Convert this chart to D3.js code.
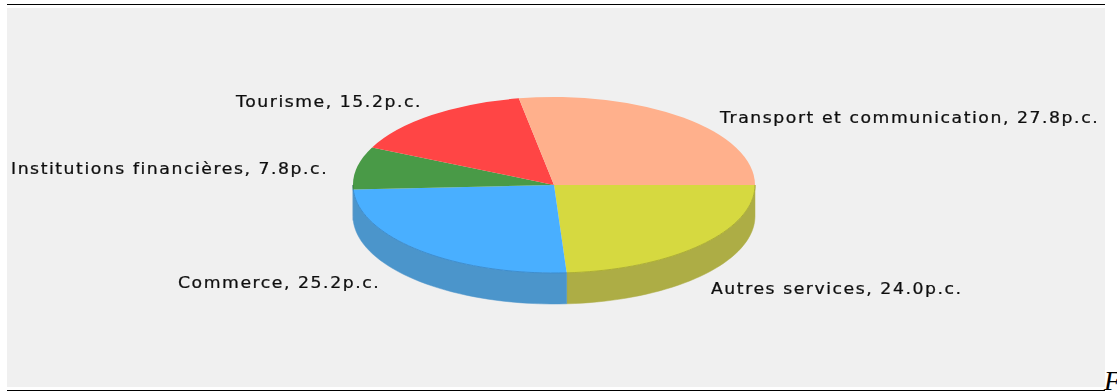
<!DOCTYPE html>
<html><head><meta charset="utf-8">
<script src="https://cdn.jsdelivr.net/npm/d3@7/dist/d3.min.js"></script>
<style>html,body{margin:0;padding:0;background:#fff;overflow:hidden}svg{display:block}</style>
</head><body><svg id="c" width="1117" height="391"></svg>
<script>
const categories = ["Autres services","Commerce","Institutions financières","Tourisme","Transport et communication"];
const values = [24.0,25.2,7.8,15.2,27.8];
const topColors = ["#d6d93f","#4aafff","#4a9a46","#ff4444","#ffb08c"];
const sideColors = ["#adad45","#4c95cb","#4c8fc0","#c93a3a","#d0906f"];

const W=1117,H=391, cx=554, cy=185, rx=201, ry=88, depth=31;
// label left edge / baseline, in the same order as categories
const labelLayout=[[711,294],[178,288],[11,174],[236,107],[720,123]];

const svg=d3.select("#c");
const defs=svg.append("defs");
defs.append("filter").attr("id","soft").attr("x","-5%").attr("y","-5%").attr("width","110%").attr("height","110%")
  .append("feGaussianBlur").attr("stdDeviation",0.6);
defs.append("filter").attr("id","softT").attr("x","-5%").attr("y","-30%").attr("width","110%").attr("height","160%")
  .append("feGaussianBlur").attr("stdDeviation",0.35);

svg.append("rect").attr("x",7).attr("y",8).attr("width",1098).attr("height",379).attr("fill","#f0f0f0");
svg.append("line").attr("x1",7).attr("x2",1105).attr("y1",4.5).attr("y2",4.5).attr("stroke","#000");
svg.append("line").attr("x1",7).attr("x2",1105).attr("y1",390.5).attr("y2",390.5).attr("stroke","#000");
svg.append("text").attr("x",1104).attr("y",390).attr("font-family","Liberation Serif").attr("font-style","italic").attr("font-size",27).attr("fill","#000").text("F");

// d3 angles: 0 at north, clockwise. The pie begins at due east.
const pie=d3.pie().sort(null).value(d=>d).startAngle(Math.PI/2).endAngle(Math.PI*2.5);
const slices=pie(values);
const xS=d3.scaleLinear().domain([-1,1]).range([cx-rx,cx+rx]);
const yS=d3.scaleLinear().domain([-1,1]).range([cy-ry,cy+ry]);
const arcU=d3.arc().innerRadius(0).outerRadius(1);

const g=svg.append("g").attr("filter","url(#soft)");
const rimArcs=[];
// side wall: visible front half only (d3 angle PI/2 .. 3PI/2)
slices.forEach((s,i)=>{
  const a0=Math.max(s.startAngle,Math.PI/2), a1=Math.min(s.endAngle,Math.PI*1.5);
  if(a1<=a0) return;
  const as=d3.range(0,41).map(k=>a0+(a1-a0)*k/40);
  const area=d3.area().x(a=>xS(Math.sin(a))).y0(a=>yS(-Math.cos(a))).y1(a=>yS(-Math.cos(a))+depth);
  g.append("path").attr("d",area(as)).attr("fill",sideColors[i]).attr("stroke",sideColors[i]).attr("stroke-width",0.5);
  rimArcs.push({as,i});
});
// top face
const face=g.append("g").attr("transform",`translate(${cx},${cy}) scale(${rx},${ry})`);
face.selectAll("path").data(slices).join("path")
  .attr("d",arcU).attr("fill",(d,i)=>topColors[i]);
// slightly darker rim where the top meets the wall
const rim=d3.line().x(a=>xS(Math.sin(a))).y(a=>yS(-Math.cos(a)));
rimArcs.forEach(r=>g.append("path").attr("d",rim(r.as)).attr("fill","none")
  .attr("stroke",d3.color(topColors[r.i]).darker(0.6)).attr("stroke-width",1));

// labels: the source glyphs are stretched sideways
svg.append("g").attr("filter","url(#softT)").selectAll("text").data(categories).join("text")
  .attr("transform",(d,i)=>`translate(${labelLayout[i][0]},${labelLayout[i][1]}) scale(1.15,1)`)
  .attr("font-family","DejaVu Sans").attr("font-size",15).attr("letter-spacing",1.35)
  .attr("fill","#111").attr("stroke","#111").attr("stroke-width",0.25)
  .text((d,i)=>`${d}, ${values[i].toFixed(1)}p.c.`);
</script></body></html>
